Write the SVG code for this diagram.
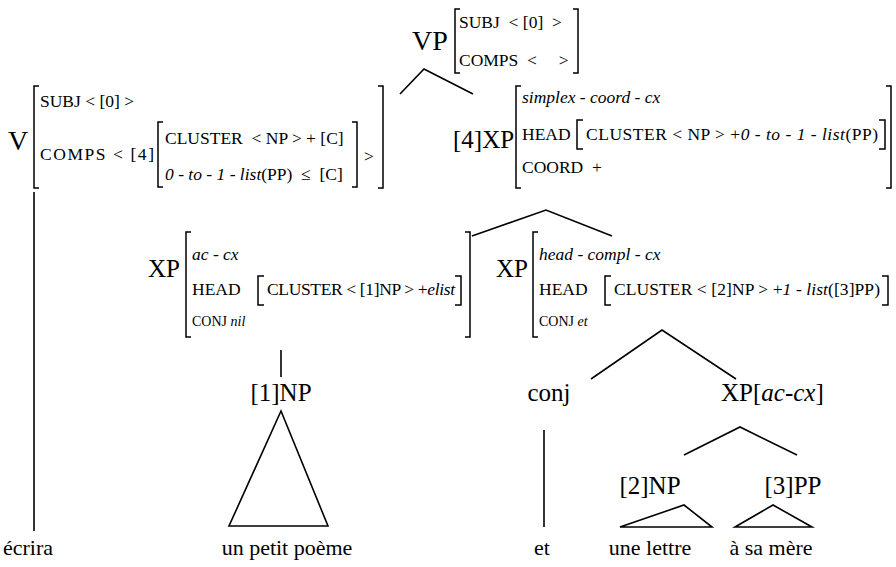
<svg xmlns="http://www.w3.org/2000/svg" width="896" height="567" viewBox="0 0 896 567" font-family="Liberation Serif, Times New Roman, Times, serif">
<style>
text{font-family:'Liberation Serif','Times New Roman',Times,serif;fill:#000}
.m{font-size:17.5px}
.s{font-size:14px}
.t{font-size:25px}
.T{font-size:28px}
.w{font-size:22px}
.i{font-style:italic}
.b{fill:none;stroke:#000;stroke-width:1.5}
.c{fill:none;stroke:#000;stroke-width:1.6}
</style>
<rect width="896" height="567" fill="#fff"/>
<g id="connectors" class="c">
<polyline points="400,94 424,69 473,94"/>
<line x1="34" y1="192" x2="34" y2="531"/>
<polyline points="472,236 546,210 612,236"/>
<line x1="281" y1="350" x2="281" y2="377"/>
<polyline points="591,379 662,330 736,379"/>
<line x1="544" y1="430" x2="544" y2="527"/>
<polyline points="684,455 740,427 797,455"/>
</g>
<g id="VP">
<text class="T" x="412" y="50">VP</text>
<path class="b" d="M460,9H455V73H460M573,9H578V73H573"/>
<text class="m" x="459" y="28" xml:space="preserve">SUBJ  &lt; [0]  &gt;</text>
<text class="m" x="459" y="66" xml:space="preserve">COMPS  &lt;     &gt;</text>
</g>
<g id="V">
<text class="T" x="8" y="150">V</text>
<path class="b" d="M39,86H34V188H39M378,86H383V188H378"/>
<text class="m" x="40" y="107">SUBJ &lt; [0] &gt;</text>
<text class="m" x="40" y="160" textLength="114">COMPS &lt; [4]</text>
<path class="b" d="M163,122H158V187H163M352,122H357V187H352"/>
<text class="m" x="165" y="144" xml:space="preserve">CLUSTER  &lt; NP &gt; + [C]</text>
<text class="m" x="165" y="180" xml:space="preserve"><tspan class="i">0 - to - 1 - list</tspan>(PP)  ≤  [C]</text>
<text class="m" x="364" y="162">&gt;</text>
</g>
<g id="XP4">
<text class="t" x="453" y="148">[4]XP</text>
<path class="b" d="M521,86H516V188H521M886,86H891V188H886"/>
<text class="m i" x="522" y="103">simplex - coord - cx</text>
<text class="m" x="522" y="140">HEAD</text>
<path class="b" d="M583,120H577V149H583M879,120H885V149H879"/>
<text class="m" x="586" y="140" textLength="292">CLUSTER &lt; NP &gt; +<tspan class="i">0 - to - 1 - list</tspan>(PP)</text>
<text class="m" x="522" y="173" xml:space="preserve">COORD  +</text>
</g>
<g id="XPleft">
<text class="t" x="148" y="277">XP</text>
<path class="b" d="M191,232H186V337H191M465,232H470V337H465"/>
<text class="m i" x="192" y="260">ac - cx</text>
<text class="m" x="192" y="295">HEAD</text>
<path class="b" d="M264,276H258V305H264M455,276H461V305H455"/>
<text class="m" x="267" y="295" textLength="188">CLUSTER &lt; [1]NP &gt; +<tspan class="i">elist</tspan></text>
<text class="s" x="192" y="326">CONJ <tspan class="i">nil</tspan></text>
</g>
<g id="XPright">
<text class="t" x="496" y="277">XP</text>
<path class="b" d="M538,232H533V337H538"/>
<text class="m i" x="539" y="260">head - compl - cx</text>
<text class="m" x="539" y="295">HEAD</text>
<path class="b" d="M611,276H605V305H611M882,276H888V305H882"/>
<text class="m" x="614" y="295" textLength="266">CLUSTER &lt; [2]NP &gt; +<tspan class="i">1 - list</tspan>([3]PP)</text>
<text class="s" x="539" y="326">CONJ <tspan class="i">et</tspan></text>
</g>
<g id="NP1">
<text class="t" x="281" y="401" text-anchor="middle">[1]NP</text>
<polygon class="c" points="281,411 229,526 328,526"/>
</g>
<g id="conj"><text class="t" x="549" y="401" text-anchor="middle">conj</text></g>
<g id="XPac"><text class="t" x="721" y="401">XP[<tspan class="i">ac-cx</tspan>]</text></g>
<g id="NP2">
<text class="t" x="650" y="494" text-anchor="middle">[2]NP</text>
<polygon class="c" points="620,527 684,505 712,527"/>
</g>
<g id="PP3">
<text class="t" x="793" y="494" text-anchor="middle">[3]PP</text>
<polygon class="c" points="735,527 773,505 812,527"/>
</g>
<g id="words">
<text class="w" x="3" y="555">écrira</text>
<text class="w" x="287" y="555" text-anchor="middle">un petit poème</text>
<text class="w" x="542" y="555" text-anchor="middle">et</text>
<text class="w" x="650" y="555" text-anchor="middle">une lettre</text>
<text class="w" x="771" y="555" text-anchor="middle">à sa mère</text>
</g>
</svg>
